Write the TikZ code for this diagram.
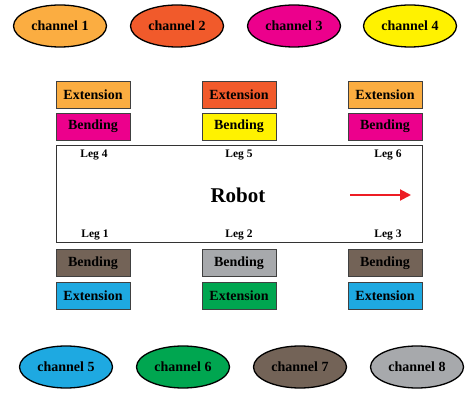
\documentclass[tikz,border=0pt]{standalone}
\usepackage{fontspec}
\setmainfont{Liberation Serif}
\usetikzlibrary{shapes.geometric,arrows.meta}
\definecolor{cOrange}{HTML}{FBAD41}
\definecolor{cRed}{HTML}{F15A2B}
\definecolor{cMagenta}{HTML}{EC008C}
\definecolor{cYellow}{HTML}{FFF200}
\definecolor{cBlue}{HTML}{1EA9E1}
\definecolor{cGreen}{HTML}{00A650}
\definecolor{cBrown}{HTML}{736357}
\definecolor{cGray}{HTML}{A7A9AC}
\definecolor{cArrow}{HTML}{ED1C24}
\tikzset{
  chan/.style={ellipse, draw=black, line width=1.3pt, minimum width=93pt, minimum height=42pt, inner sep=0pt, font=\fontsize{14}{16}\selectfont\bfseries},
  act/.style={rectangle, draw=black!75, line width=0.9pt, minimum width=74pt, minimum height=27pt, inner sep=0pt, font=\fontsize{14}{16}\selectfont\bfseries},
  leg/.style={font=\fontsize{11.5}{13}\selectfont\bfseries, inner sep=0pt},
}
\begin{document}
\begin{tikzpicture}[x=1pt,y=-1pt]
\useasboundingbox (0,0) rectangle (466,395);
% channels top
\node[chan, fill=cOrange] (c1) at (60,26) {channel 1};
\node[chan, fill=cRed] (c2) at (177,26) {channel 2};
\node[chan, fill=cMagenta] (c3) at (294,26) {channel 3};
\node[chan, fill=cYellow] (c4) at (410,26) {channel 4};
% channels bottom
\node[chan, fill=cBlue] (c5) at (66,367) {channel 5};
\node[chan, fill=cGreen] (c6) at (183,367) {channel 6};
\node[chan, fill=cBrown] (c7) at (300,367) {channel 7};
\node[chan, fill=cGray] (c8) at (417,367) {channel 8};
% robot body
\node[draw=black!80, line width=1pt, minimum width=366pt, minimum height=97pt, inner sep=0pt] (robot) at (239,194.5) {};
\node[font=\fontsize{21}{24}\selectfont\bfseries] (rlabel) at (238,195) {Robot};
% top boxes
\node[act, fill=cOrange] (e4) at (93,94.5) {Extension};
\node[act, fill=cMagenta] (b4) at (93,126.5) {Bending};
\node[act, fill=cRed] (e5) at (239,94.5) {Extension};
\node[act, fill=cYellow] (b5) at (239,126.5) {Bending};
\node[act, fill=cOrange] (e6) at (385,94.5) {Extension};
\node[act, fill=cMagenta] (b6) at (385,126.5) {Bending};
% bottom boxes
\node[act, fill=cBrown] (b1) at (93,263) {Bending};
\node[act, fill=cBlue] (e1) at (93,295.5) {Extension};
\node[act, fill=cGray] (b2) at (239,263) {Bending};
\node[act, fill=cGreen] (e2) at (239,295.5) {Extension};
\node[act, fill=cBrown] (b3) at (385,263) {Bending};
\node[act, fill=cBlue] (e3) at (385,295.5) {Extension};
% legs
\node[leg] (l4) at (94,155) {Leg 4};
\node[leg] (l5) at (239,155) {Leg 5};
\node[leg] (l6) at (388,155) {Leg 6};
\node[leg] (l1) at (95,234.5) {Leg 1};
\node[leg] (l2) at (239,234.5) {Leg 2};
\node[leg] (l3) at (388,234.5) {Leg 3};
% arrow
\coordinate (a0) at (350,195);
\coordinate (a1) at (411,195);
\draw[cArrow, line width=2pt, -{Triangle[length=11pt,width=11pt]}] (a0) -- (a1);
\end{tikzpicture}
\end{document}
